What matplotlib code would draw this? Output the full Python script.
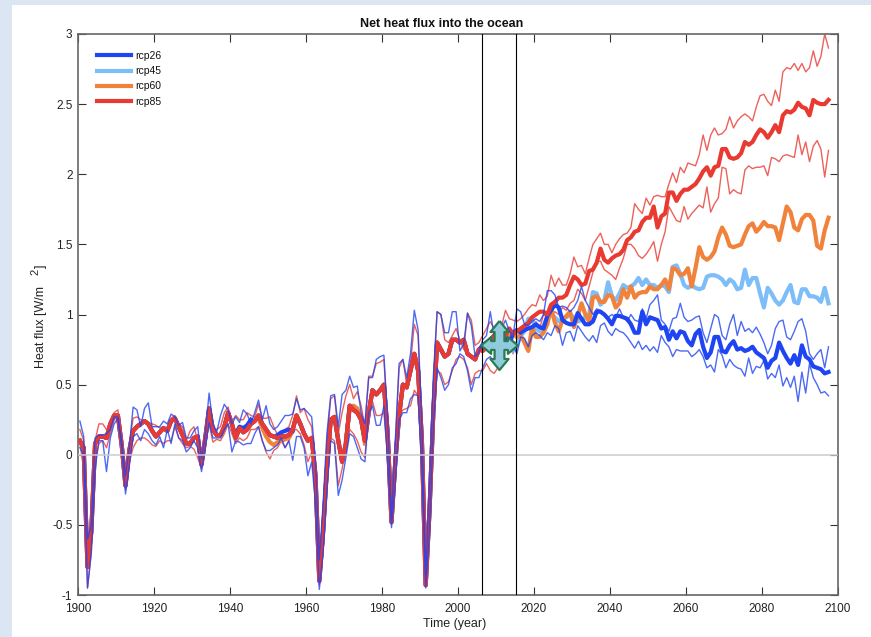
"""
Net heat flux into the ocean, historical run plus four rcp scenarios.
"""
import matplotlib
matplotlib.use("Agg")
import matplotlib.pyplot as plt
import numpy as np
from matplotlib.patches import Rectangle
from matplotlib.path import Path

plt.rcParams["font.family"] = ["Liberation Sans", "DejaVu Sans"]

HIST_START = 1900
SCENARIOS = ["rcp26", "rcp45", "rcp60", "rcp85"]

# ensemble mean 1900-2005
hist_mean = [
    .10, .05, -.80, -.55, .08, .13, .13, .12, .22, .28,
    .28, .07, -.22, .03, .17, .20, .22, .24, .22, .17,
    .13, .16, .19, .17, .24, .26, .20, .14, .08, .08,
    .12, .13, -.07, .12, .33, .18, .14, .14, .20, .30,
    .22, .12, .19, .16, .18, .22, .24, .28, .22, .18,
    .14, .13, .12, .13, .13, .14, .18, .28, .22, .15,
    .10, .12, -.15, -.90, -.55, -.10, .25, .27, .10, -.05,
    .08, .35, .32, .30, .25, .10, .30, .46, .43, .46,
    .50, .15, -.48, -.05, .28, .50, .48, .60, .72, .60,
    .10, -.93, -.40, .30, .80, .75, .70, .72, .82, .82,
    .80, .82, .72, .70, .68, .75,
]
hist_hi_blue = [
    .24, .13, -.60, -.50, .12, .14, .14, .15, .18, .27,
    .27, .10, -.15, .05, .34, .32, .20, .33, .37, .20,
    .20, .20, .24, .22, .29, .27, .21, .23, .12, .12,
    .17, .20, -.03, .15, .44, .22, .16, .28, .36, .32,
    .22, .27, .23, .32, .29, .22, .30, .39, .25, .35,
    .22, .18, .20, .24, .28, .28, .29, .40, .32, .33,
    .30, .27, -.05, -.75, -.35, .15, .42, .43, .20, .43,
    .46, .56, .48, .49, .30, .22, .55, .55, .68, .70,
    .71, .25, -.45, .10, .65, .68, .55, .72, 1.03, .89,
    .20, -.85, -.20, .55, 1.02, 1.00, .87, .87, 1.02, 1.02,
    .74, .79, 1.01, .92, .70, .73,
]
hist_lo_blue = [
    .05, .00, -.95, -.70, -.10, .10, .10, -.12, .12, .22,
    .26, .05, -.28, -.08, .13, .15, .10, .18, .15, .10,
    .07, .13, .05, .18, .08, .22, .12, .10, .02, .05,
    .10, .05, -.12, .05, .23, .12, .12, .12, .18, .22,
    .02, .10, .09, .07, .08, .08, .15, .20, .10, .03,
    .03, .05, .07, .12, .05, .10, -.04, .13, .13, .05,
    -.15, -.05, -.35, -.96, -.70, -.25, .10, .08, -.29, -.18,
    -.02, .15, .13, .05, -.03, -.05, .30, .35, .21, .21,
    .35, -.05, -.52, -.20, .25, .30, .30, .40, .43, .42,
    -.10, -.95, -.55, .20, .62, .55, .46, .50, .62, .65,
    .72, .70, .60, .45, .55, .55,
]
hist_hi_red = [
    .18, .10, -.75, -.50, .10, .22, .22, .18, .20, .30,
    .32, .10, -.10, .08, .26, .27, .25, .24, .23, .22,
    .21, .19, .20, .19, .26, .28, .22, .20, .10, .17,
    .20, .10, -.02, .12, .32, .20, .18, .20, .30, .34,
    .24, .28, .25, .25, .30, .28, .27, .36, .26, .26,
    .27, .20, .14, .16, .18, .20, .28, .42, .30, .33,
    .25, .20, -.10, -.80, -.40, .10, .40, .42, .15, .30,
    .42, .50, .40, .45, .35, .20, .56, .56, .65, .66,
    .68, .22, -.42, .08, .62, .68, .50, .65, .93, .85,
    .15, -.88, -.25, .50, 1.02, 1.00, .82, .80, .85, .90,
    .82, .75, 1.01, .96, .78, .80,
]
hist_lo_red = [
    .08, -.10, -.95, -.70, -.05, .08, .10, .05, .15, .25,
    .27, .03, -.25, -.05, .05, .10, .12, .12, .10, .07,
    .06, .10, .08, .10, .10, .20, .12, .08, .05, .06,
    .04, -.02, -.10, .08, .22, .09, .11, .10, .15, .22,
    .15, .08, .12, .10, .12, .18, .18, .20, .10, .02,
    -.03, .03, .05, .10, .05, .10, .18, .18, .15, .07,
    -.05, .02, -.30, -.93, -.68, -.22, .12, .10, -.22, -.10,
    .05, .18, .15, .10, .02, -.02, .32, .38, .28, .28,
    .30, -.02, -.50, -.15, .28, .32, .33, .35, .46, .42,
    -.05, -.93, -.50, .22, .60, .58, .50, .52, .60, .68,
    .70, .68, .62, .50, .58, .60,
]

# spots where the other historical means peek out from under the red one
orange_hist_years = [1947.5, 1948.5, 1949.5, 1950.5, 1951.5, 1952.5, 1953.5, 1954.5, 1955.5, 1956.5]
orange_hist_values = [.26, .19, .13, .09, .07, .09, .10, .11, .12, .17]
orange_hist_years2 = [1970.5, 1971.5, 1972.5, 1973.5, 1974.5, 1975.5]
orange_hist_values2 = [.10, .33, .35, .33, .26, .08]
blue_hist_years = [1941.5, 1942.5, 1943.5, 1944.5, 1945.5]
blue_hist_values = [.15, .20, .19, .21, .25]
blue_hist_years2 = [1952.5, 1953.5, 1954.5, 1955.5, 1956.5]
blue_hist_values2 = [.14, .16, .17, .18, .17]

# scenario runs 2006-2097
rcp26_mean = [
    .78, .80, .82, .85,
    .85, .82, .84, .78, .87, .89, .87, .89, .90, .91,
    .93, .91, .90, .99, 1.03, 1.07, 1.05, .96, .94, .93,
    .93, 1.01, .97, .93, .93, .95, 1.02, 1.02, 1.0, .97,
    .93, .99, .99, .98, .97, .93, .87, .87, 1.02, .93,
    .98, .97, .96, .90, .91, .82, .88, .83, .88, .87,
    .81, .78, .86, .89, .77, .69, .73, .84, .84, .74,
    .73, .78, .81, .75, .76, .74, .75, .77, .73, .71,
    .69, .62, .67, .69, .80, .74, .69, .65, .71, .64,
    .78, .70, .68, .63, .62, .61, .58, .59,
]
rcp26_hi = [
    .82, .85, 1.02, .85,
    .82, .90, .96, .88, .85, 1.04, 1.02, .93, .92, .95,
    .97, .95, 1.0, 1.17, 1.17, 1.14, 1.05, 1.06, 1.05, 1.02,
    1.05, 1.10, 1.20, 1.10, 1.05, 1.0, 1.04, 1.03, 1.0, .98,
    1.0, .98, 1.04, .98, .95, 1.0, .96, .95, 1.04, .97,
    1.07, 1.10, 1.14, .96, .93, .88, .97, .98, 1.08, .98,
    .95, .96, .98, .99, .87, .80, .90, 1.0, .98, .85,
    .82, .93, 1.0, .85, .95, .88, .90, .87, .91, .86,
    .80, .72, .78, .90, .95, .96, .84, .82, .88, .95,
    .97, .88, .72, .68, .72, .75, .62, .77,
]
rcp26_lo = [
    .62, .68, .70, .65,
    .70, .75, .75, .75, .78, .72, .84, .83, .77, .85,
    .87, .85, .82, .87, .85, .92, .90, .78, .87, .88,
    .81, .92, .88, .84, .81, .85, .80, .92, .94, .88,
    .85, .90, .88, .87, .84, .80, .76, .81, .75, .78,
    .74, .77, .73, .85, .80, .77, .70, .75, .74, .74,
    .74, .70, .72, .75, .70, .62, .64, .59, .75, .71,
    .62, .68, .64, .62, .61, .56, .69, .58, .63, .62,
    .67, .54, .58, .55, .64, .49, .55, .48, .56, .38,
    .59, .44, .65, .55, .50, .44, .45, .42,
]
rcp45_mean = [
    .76, .78, .80, .82,
    .84, .82, .80, .76, .74, .78, .85, .88, .97, .97,
    .90, .88, .92, .98, 1.0, .98, .95, .97, .98, 1.0,
    .98, .95, .96, .98, 1.0, 1.16, 1.15, 1.07, 1.10, 1.23,
    1.13, 1.10, 1.15, 1.21, 1.19, 1.20, 1.22, 1.26, 1.21, 1.25,
    1.21, 1.21, 1.19, 1.21, 1.20, 1.16, 1.34, 1.35, 1.29, 1.21,
    1.19, 1.21, 1.19, 1.18, 1.19, 1.27, 1.28, 1.28, 1.27, 1.25,
    1.21, 1.25, 1.23, 1.18, 1.19, 1.32, 1.21, 1.26, 1.26, 1.15,
    1.05, 1.19, 1.15, 1.10, 1.07, 1.10, 1.16, 1.21, 1.09, 1.08,
    1.18, 1.18, 1.13, 1.13, 1.12, 1.09, 1.19, 1.08,
]
rcp60_mean = [
    .74, .76, .78, .80,
    .80, .82, .82, .85, .86, .84, .85, .80, .74, .91,
    .84, .84, .87, .93, 1.05, .94, .88, .96, .99, 1.02,
    .91, .99, 1.08, 1.0, .95, 1.12, 1.13, 1.09, 1.09, 1.14,
    1.13, 1.05, 1.08, 1.18, 1.12, 1.20, 1.12, 1.15, 1.16, 1.16,
    1.20, 1.18, 1.18, 1.21, 1.25, 1.18, 1.33, 1.32, 1.28, 1.29,
    1.33, 1.20, 1.33, 1.48, 1.41, 1.39, 1.41, 1.45, 1.55, 1.62,
    1.57, 1.49, 1.48, 1.49, 1.50, 1.57, 1.63, 1.65, 1.59, 1.62,
    1.66, 1.63, 1.63, 1.62, 1.53, 1.65, 1.77, 1.73, 1.62, 1.60,
    1.68, 1.71, 1.71, 1.67, 1.49, 1.47, 1.60, 1.69,
]
rcp85_mean = [
    .74, .78, .82, .85,
    .88, .88, .85, .90, .86, .88, .90, .92, .94, .98,
    1.0, 1.02, 1.02, 1.0, 1.07, 1.09, 1.12, 1.12, 1.14, 1.21,
    1.27, 1.25, 1.21, 1.22, 1.31, 1.32, 1.37, 1.47, 1.39, 1.37,
    1.40, 1.42, 1.43, 1.46, 1.53, 1.55, 1.59, 1.60, 1.66, 1.69,
    1.69, 1.77, 1.62, 1.70, 1.72, 1.87, 1.87, 1.81, 1.86, 1.89,
    1.89, 1.91, 1.93, 1.97, 2.02, 2.05, 1.99, 2.05, 2.06, 2.18,
    2.18, 2.12, 2.11, 2.12, 2.15, 2.23, 2.21, 2.23, 2.28, 2.32,
    2.30, 2.26, 2.30, 2.35, 2.30, 2.42, 2.45, 2.44, 2.46, 2.51,
    2.48, 2.47, 2.42, 2.53, 2.51, 2.50, 2.50, 2.53,
]
rcp85_hi = [
    .85, .90, .95, .90,
    .88, .92, 1.03, .97, .96, .95, .97, 1.0, 1.04, 1.07,
    1.06, 1.14, 1.10, 1.13, 1.28, 1.20, 1.26, 1.21, 1.21, 1.29,
    1.41, 1.34, 1.35, 1.29, 1.40, 1.50, 1.54, 1.58, 1.50, 1.50,
    1.44, 1.50, 1.54, 1.57, 1.58, 1.62, 1.79, 1.75, 1.72, 1.83,
    1.78, 1.84, 1.85, 1.84, 1.84, 1.93, 2.01, 1.94, 2.05, 2.01,
    2.08, 2.07, 2.06, 2.14, 2.28, 2.17, 2.28, 2.33, 2.28, 2.29,
    2.32, 2.41, 2.33, 2.38, 2.41, 2.43, 2.41, 2.38, 2.48, 2.56,
    2.57, 2.52, 2.49, 2.60, 2.52, 2.73, 2.76, 2.75, 2.79, 2.74,
    2.79, 2.73, 2.76, 2.88, 2.77, 2.84, 3.0, 2.90,
]
rcp85_lo = [
    .60, .65, .60, .58,
    .62, .68, .78, .80, .72, .82, .85, .87, .90, .92,
    .95, .90, 1.0, .98, 1.0, 1.02, 1.0, 1.05, 1.03, 1.08,
    1.10, 1.18, 1.15, 1.10, 1.20, 1.30, 1.38, 1.38, 1.32, 1.30,
    1.28, 1.25, 1.33, 1.40, 1.50, 1.50, 1.47, 1.42, 1.40, 1.43,
    1.47, 1.52, 1.38, 1.50, 1.59, 1.77, 1.72, 1.67, 1.66, 1.77,
    1.68, 1.72, 1.75, 1.78, 1.76, 1.91, 1.73, 1.79, 1.83, 2.05,
    2.04, 1.86, 1.89, 1.87, 1.86, 2.03, 2.06, 2.04, 2.05, 2.05,
    2.06, 1.99, 2.12, 2.11, 2.09, 2.13, 2.14, 2.13, 2.12, 2.28,
    2.14, 2.23, 2.09, 2.20, 2.24, 2.18, 1.98, 2.17,
]

window_years = [2006.3, 2015.3]
marker_year = 2010.8
marker_value = 0.78

BLUE = "#1f44f2"
LIGHT_BLUE = "#7dbdf8"
ORANGE = "#f0823c"
RED = "#e93a32"
GREY = "#666666"
TEXT = "#222222"
THICK = 3.0

# four-way arrow, outline only
ARROW_VERTS = [
    (0, 1), (.37, .55), (.2, .55), (.2, .18), (.34, .18), (.34, .34), (.75, 0),
    (.34, -.34), (.34, -.18), (.2, -.18), (.2, -.55), (.37, -.55), (0, -1),
    (-.37, -.55), (-.2, -.55), (-.2, -.18), (-.34, -.18), (-.34, -.34), (-.75, 0),
    (-.34, .34), (-.34, .18), (-.2, .18), (-.2, .55), (-.37, .55), (0, 1),
]


def _series(hist, future):
    """
    Joins a historical series and a scenario; samples sit at mid-year.
    """
    values = np.array(list(hist) + list(future))
    return HIST_START + np.arange(len(values)) + 0.5, values


def _draw_thin(ax, hist, future, color, zorder):
    x, y = _series(hist, future)
    ax.plot(x, y, color=color, lw=1.0, alpha=0.8, zorder=zorder)


def _draw_thick(ax, future, color, label, zorder):
    x, y = _series(hist_mean, future)
    return ax.plot(x, y, color=color, lw=THICK, label=label, zorder=zorder, solid_joinstyle="round")[0]


def _apply_aesthetics(ax):
    ax.set_xlim(1900, 2100)
    ax.set_ylim(-1, 3)
    ax.set_xticks(np.arange(1900, 2101, 20))
    ax.set_yticks(np.arange(-1, 3.01, 0.5))
    ax.set_yticklabels(["-1", "-0.5", "0", "0.5", "1", "1.5", "2", "2.5", "3"])
    ax.tick_params(direction="in", top=True, right=True, length=6, width=0.8, labelsize=8.5,
                   color="#333333", labelcolor=TEXT)
    ax.tick_params(axis="x", pad=6)
    ax.tick_params(axis="y", pad=4)
    for spine in ax.spines.values():
        spine.set_color(GREY)
        spine.set_linewidth(1.2)
    ax.set_title("Net heat flux into the ocean", x=(442 - 78) / 760, fontsize=9, fontweight="bold",
                 color="#111111", pad=5)
    ax.set_xlabel("Time (year)", x=(455 - 78) / 760, fontsize=9, color=TEXT, labelpad=2)


def _draw_ylabel(fig):
    """
    The unit's exponent floats apart from the label, as it does in the source figure.
    """
    fig.text(41 / 871, 1 - 368 / 637, "Heat flux [W/m", rotation=90, fontsize=9, color=TEXT,
             ha="center", va="bottom")
    fig.text(35 / 871, 1 - 272 / 637, "2", rotation=90, fontsize=8, color=TEXT, ha="center", va="center")
    fig.text(41 / 871, 1 - 266 / 637, "]", rotation=90, fontsize=9, color=TEXT, ha="center", va="center")


def main():
    fig = plt.figure(figsize=(8.71, 6.37), dpi=100, facecolor="#dce6f2")
    fig.patches.append(Rectangle((12 / 871, 0), 1, 632 / 637, transform=fig.transFigure,
                                 facecolor="white", edgecolor="none", zorder=-1))
    ax = fig.add_axes([78 / 871, 1 - 595 / 637, 760 / 871, 561 / 637])

    _draw_thin(ax, hist_hi_red, rcp85_hi, RED, 2)
    _draw_thin(ax, hist_lo_red, rcp85_lo, RED, 2)

    line45 = _draw_thick(ax, rcp45_mean, LIGHT_BLUE, "rcp45", 3)
    line60 = _draw_thick(ax, rcp60_mean, ORANGE, "rcp60", 4)
    line26 = _draw_thick(ax, rcp26_mean, BLUE, "rcp26", 5)
    ax.plot(orange_hist_years, orange_hist_values, color=ORANGE, lw=THICK, zorder=4)
    ax.plot(orange_hist_years2, orange_hist_values2, color=ORANGE, lw=THICK, zorder=4)
    ax.plot(blue_hist_years, blue_hist_values, color=BLUE, lw=THICK, zorder=5)
    ax.plot(blue_hist_years2, blue_hist_values2, color=BLUE, lw=THICK, zorder=5)
    line85 = _draw_thick(ax, rcp85_mean, RED, "rcp85", 6)

    _draw_thin(ax, hist_hi_blue, rcp26_hi, BLUE, 7)
    _draw_thin(ax, hist_lo_blue, rcp26_lo, BLUE, 7)

    ax.axhline(0, color="#cccccc", lw=1.1, zorder=8)
    for year in window_years:
        ax.axvline(year, color="black", lw=0.8, zorder=9)

    ax.scatter([marker_year], [marker_value], marker=Path(ARROW_VERTS), s=1250, facecolor="#8fcbdc",
               edgecolor="#2b7a52", linewidth=1.6, zorder=10)

    ax.legend(handles=[line26, line45, line60, line85], labels=SCENARIOS, loc="upper left",
              bbox_to_anchor=(19 / 760, 1 - 17 / 561), frameon=False, fontsize=7.5, borderpad=0,
              borderaxespad=0, handlelength=3.3, handletextpad=0.4, labelspacing=0.5, labelcolor="#111111")

    _apply_aesthetics(ax)
    _draw_ylabel(fig)
    fig.savefig("out.png", dpi=100, facecolor=fig.get_facecolor())


if __name__ == "__main__":
    main()
